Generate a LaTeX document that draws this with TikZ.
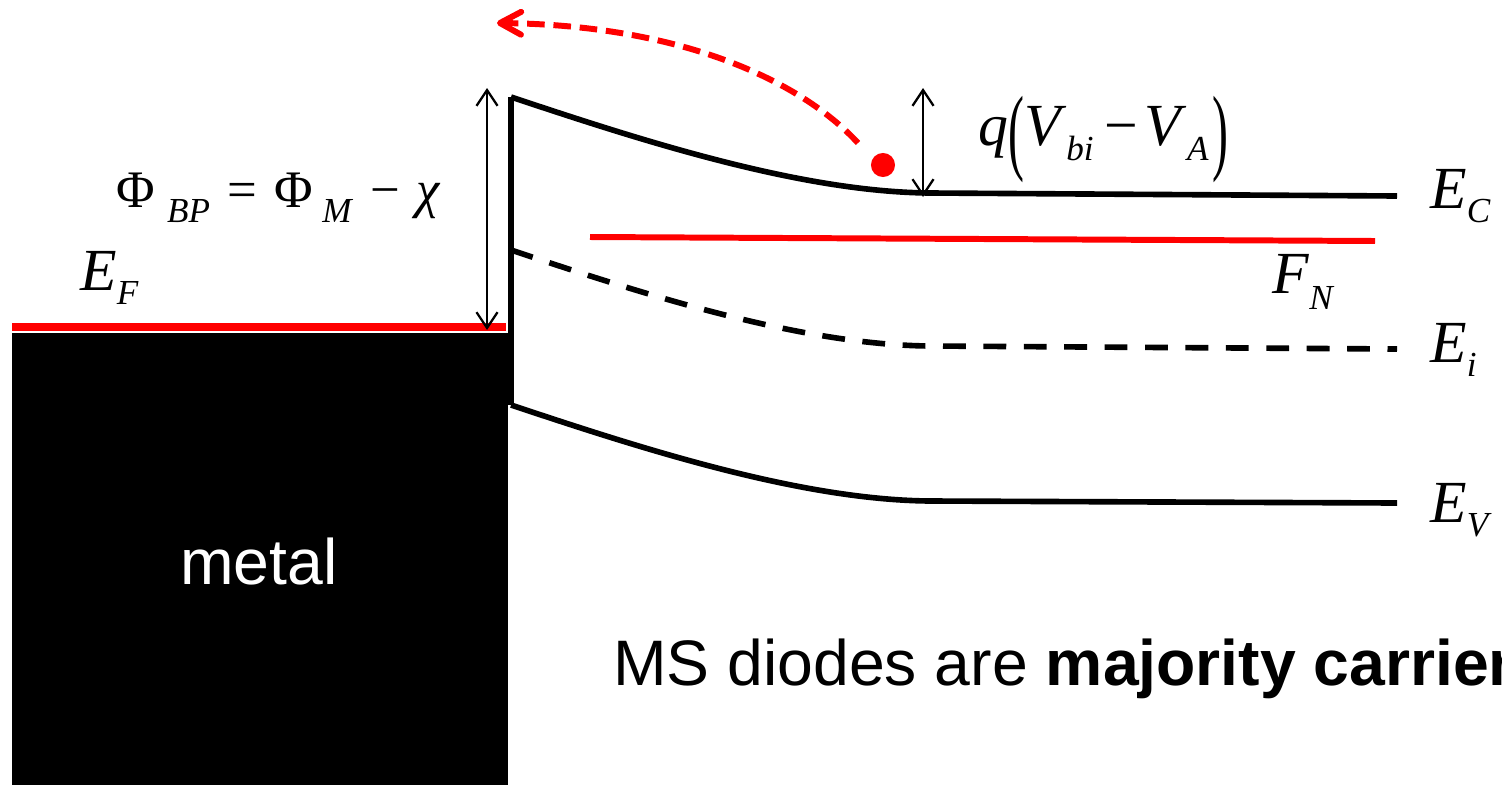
\documentclass[tikz,border=0pt]{standalone}
\usepackage{fontspec}
\usetikzlibrary{arrows.meta}
\newfontfamily\tnr{Liberation Serif}
\newfontfamily\arial{Liberation Sans}
\newcommand\mysub[2][8.5pt]{\raisebox{-#1}{\fontsize{20}{20}\selectfont\itshape #2}}
\tikzset{
  band/.style={line width=3.2pt, black, line join=round},
  fermi/.style={line width=3.6pt, red},
  dimarrow/.style={line width=1.3pt, {Straight Barb[length=9pt,width=12pt]}-{Straight Barb[length=9pt,width=12pt]}},
  lbl/.style={inner sep=0pt, anchor=base west, font=\tnr\fontsize{34}{34}\selectfont},
  sans/.style={inner sep=0pt, font=\arial\fontsize{36.6}{36.6}\selectfont}
}
\begin{document}
\begin{tikzpicture}[x=0.02cm,y=-0.02cm]
\useasboundingbox (0,0) rectangle (1502,785);
% metal
\fill[black] (12,333) rectangle (508,785);
\node[sans, text=white, anchor=base] (metal) at (259,584) {metal};
\draw[fermi, line width=4pt] (12,327) -- (506,327);
% barrier edge
\draw[band] (511,405) -- (511,97);
% E_C
\draw[band] (511,97) .. controls (640,140) and (800,192) .. (930,193) -- (1397,196);
% E_i
\draw[band, dash pattern=on 13pt off 10pt] (511,250) .. controls (640,293) and (800,345) .. (930,346) -- (1397,349);
% E_V
\draw[band] (511,405) .. controls (640,448) and (800,500) .. (930,501) -- (1397,503);
% F_N
\draw[fermi, line width=3.4pt] (590,237) -- (1375,241);
% dimension arrows
\coordinate (a1) at (487,88);
\coordinate (a2) at (487,330);
\draw[dimarrow] (a1) -- (a2);
\coordinate (b1) at (923,88);
\coordinate (b2) at (923,197);
\draw[dimarrow] (b1) -- (b2);
% electron
\node[circle, fill=red, inner sep=0pt, minimum size=13.7pt] (dot) at (883,165) {};
\coordinate (rs) at (858,143);
\coordinate (re) at (497,23);
\draw[red, line width=3.4pt, dash pattern=on 10pt off 5pt, -{Straight Barb[length=12pt,width=13pt,round]}]
  (rs) .. controls (800,80) and (680,25) .. (re);
% labels
\node[lbl, font=\tnr\fontsize{30}{30}\selectfont] (phi) at (116,207)
  {Φ\hspace{7pt}\mysub[9pt]{BP}\hspace{10pt}=\hspace{10pt}Φ\hspace{5pt}\mysub[9pt]{M}\hspace{11pt}−\hspace{9pt}\textit{χ}};
\node[lbl] (EF) at (80,290) {\textit{E}\mysub{F}};
\node[lbl] (q) at (978,145) {\textit{q}\raisebox{-10pt}{\scalebox{0.8}[1.6]{(}}\textit{V}\mysub[9pt]{bi}\hspace{6pt}−\hspace{4pt}\textit{V}\mysub[9pt]{A}\hspace{2pt}\raisebox{-10pt}{\scalebox{0.8}[1.6]{)}}};
\node[lbl] (EC) at (1430,208) {\textit{E}\mysub{C}};
\node[lbl] (FN) at (1272,293) {\textit{F}\mysub[9.5pt]{N}};
\node[lbl] (Ei) at (1430,362) {\textit{E}\mysub{i}};
\node[lbl] (EV) at (1430,522) {\textit{E}\mysub{V}};
\node[sans, anchor=base west] (ms) at (613,685) {MS diodes are \textbf{majority carrier}};
\end{tikzpicture}
\end{document}
